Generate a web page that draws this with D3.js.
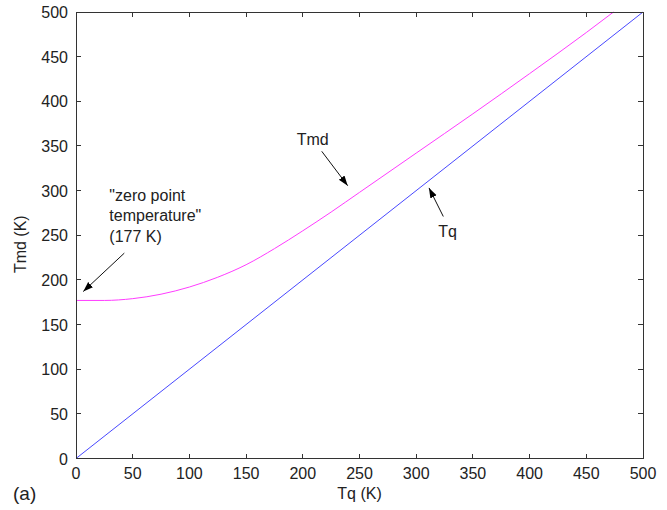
<!DOCTYPE html>
<html>
<head>
<meta charset="utf-8">
<script src="https://cdn.jsdelivr.net/npm/d3@7"></script>
<style>
  body { margin: 0; background: #fff; }
  svg { display: block; font-family: "Liberation Sans", Arial, sans-serif; }
</style>
</head>
<body>
<div id="wrapper"></div>
<script>
/* DATA */
const tqValues = [0, 25, 50, 75, 100, 125, 150, 175, 200, 225, 250, 300, 350, 400, 450, 474]
const tmdValues = [177, 177, 179, 184, 192, 203, 217, 235, 255, 276, 298, 342, 386, 431, 477, 500]
const tqLineValues = [0, 500]
const xTicks = [0, 50, 100, 150, 200, 250, 300, 350, 400, 450, 500]
const yTicks = [0, 50, 100, 150, 200, 250, 300, 350, 400, 450, 500]

// annotations, in data units
const noteLines = ['"zero point', 'temperature"', '(177 K)']
const noteX = 29.4
const noteY = [288.7, 265.7, 242.7]
const arrows = [
  { from: [42.6, 230], to: [6.4, 187] },
  { from: [216.7, 344], to: [239.6, 305.5] },
  { from: [323.9, 271], to: [311.3, 303] },
]
const curveLabels = [
  { text: 'Tmd', x: 194.6, y: 351.5 },
  { text: 'Tq', x: 319.5, y: 247.5 },
]

function drawChart() {
  const dimensions = {
    width: 667,
    height: 510,
    margin: { top: 12, right: 24, bottom: 51.5, left: 76 },
    tickSize: 5
  }
  dimensions.boundedWidth = dimensions.width - dimensions.margin.left - dimensions.margin.right
  dimensions.boundedHeight = dimensions.height - dimensions.margin.top - dimensions.margin.bottom

  /* SCALES */
  const xScale = d3.scaleLinear().domain([0, 500]).range([0, dimensions.boundedWidth])
  const yScale = d3.scaleLinear().domain([0, 500]).range([dimensions.boundedHeight, 0])

  const wrapper = d3.select('#wrapper')
    .append('svg')
    .attr('width', dimensions.width)
    .attr('height', dimensions.height)

  wrapper.append('defs')
    .append('marker')
    .attr('id', 'arrow')
    .attr('viewBox', '0 0 10 10')
    .attr('refX', 10)
    .attr('refY', 5)
    .attr('markerWidth', 10)
    .attr('markerHeight', 10)
    .attr('markerUnits', 'userSpaceOnUse')
    .attr('orient', 'auto')
    .append('path')
    .attr('d', 'M0 1.5 L10 5 L0 8.5 Z')
    .attr('fill', '#000')

  const bounds = wrapper.append('g')
    .attr('transform', `translate(${dimensions.margin.left} ${dimensions.margin.top})`)

  /* LINES */
  const lineGen = d3.line()
    .x((d, i) => xScale(d[0]))
    .y(d => yScale(d[1]))

  bounds.append('path')
    .attr('d', lineGen(tqLineValues.map(v => [v, v])))
    .attr('fill', 'none')
    .attr('stroke', '#4848ff')
    .attr('stroke-width', 1)

  bounds.append('path')
    .attr('d', lineGen.curve(d3.curveMonotoneX)(tqValues.map((v, i) => [v, tmdValues[i]])))
    .attr('fill', 'none')
    .attr('stroke', '#ff3cff')
    .attr('stroke-width', 1)

  /* AXES (box with inward ticks) */
  const axisColor = '#333'
  const axes = bounds.append('g').attr('stroke', axisColor).attr('stroke-width', 1).attr('fill', 'none')
  axes.append('rect')
    .attr('x', 0).attr('y', 0)
    .attr('width', dimensions.boundedWidth)
    .attr('height', dimensions.boundedHeight)
    .attr('shape-rendering', 'crispEdges')

  const t = dimensions.tickSize
  xTicks.slice(1, -1).forEach(d => {
    axes.append('line').attr('x1', xScale(d)).attr('x2', xScale(d))
      .attr('y1', dimensions.boundedHeight).attr('y2', dimensions.boundedHeight - t)
    axes.append('line').attr('x1', xScale(d)).attr('x2', xScale(d))
      .attr('y1', 0).attr('y2', t)
  })
  yTicks.slice(1, -1).forEach(d => {
    axes.append('line').attr('y1', yScale(d)).attr('y2', yScale(d))
      .attr('x1', 0).attr('x2', t)
    axes.append('line').attr('y1', yScale(d)).attr('y2', yScale(d))
      .attr('x1', dimensions.boundedWidth).attr('x2', dimensions.boundedWidth - t)
  })
  axes.selectAll('line').attr('shape-rendering', 'crispEdges')

  const labels = bounds.append('g').attr('fill', '#222').attr('font-size', 16)

  labels.append('g')
    .attr('text-anchor', 'middle')
    .selectAll('text')
    .data(xTicks)
    .join('text')
    .attr('x', d => xScale(d))
    .attr('y', dimensions.boundedHeight + 20)
    .text(d => d)

  labels.append('g')
    .attr('text-anchor', 'end')
    .selectAll('text')
    .data(yTicks)
    .join('text')
    .attr('x', -8)
    .attr('y', d => yScale(d) + 6)
    .text(d => d)

  labels.append('text')
    .attr('text-anchor', 'middle')
    .attr('x', dimensions.boundedWidth / 2)
    .attr('y', dimensions.boundedHeight + 40)
    .text('Tq (K)')

  labels.append('text')
    .attr('text-anchor', 'middle')
    .attr('transform', `translate(-50 ${yScale(240)}) rotate(-90)`)
    .text('Tmd (K)')

  labels.append('text')
    .attr('x', 13 - dimensions.margin.left)
    .attr('y', dimensions.boundedHeight + 41)
    .attr('font-size', 19)
    .text('(a)')

  /* ANNOTATIONS */
  const notes = bounds.append('g').attr('fill', '#222').attr('font-size', 16)
  notes.selectAll('text.note')
    .data(noteLines)
    .join('text')
    .attr('class', 'note')
    .attr('x', xScale(noteX))
    .attr('y', (d, i) => yScale(noteY[i]))
    .text(d => d)

  notes.selectAll('text.curve-label')
    .data(curveLabels)
    .join('text')
    .attr('class', 'curve-label')
    .attr('x', d => xScale(d.x))
    .attr('y', d => yScale(d.y))
    .text(d => d.text)

  bounds.append('g')
    .selectAll('line')
    .data(arrows)
    .join('line')
    .attr('x1', d => xScale(d.from[0]))
    .attr('y1', d => yScale(d.from[1]))
    .attr('x2', d => xScale(d.to[0]))
    .attr('y2', d => yScale(d.to[1]))
    .attr('stroke', '#111')
    .attr('stroke-width', 1)
    .attr('marker-end', 'url(#arrow)')
}

drawChart()
</script>
</body>
</html>
